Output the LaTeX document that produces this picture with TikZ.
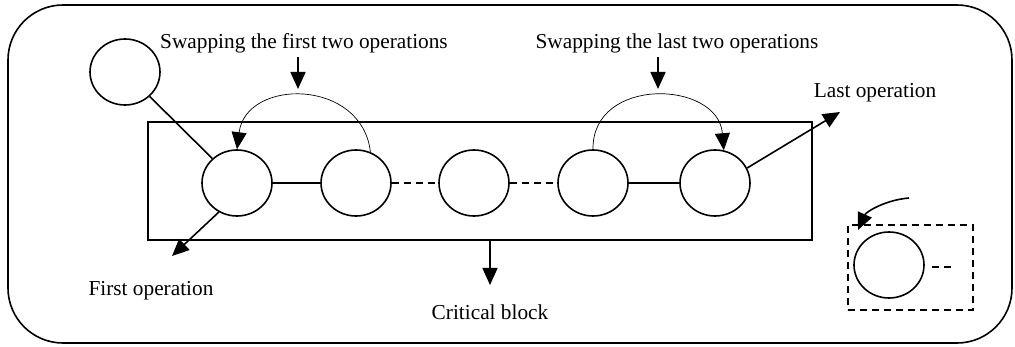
\documentclass[tikz,border=0pt]{standalone}
\usepackage{fontspec}
\setmainfont{Liberation Serif}
\usetikzlibrary{shapes.geometric,arrows.meta,calc}
\begin{document}
\begin{tikzpicture}[x=1pt,y=-1pt,
  op/.style={draw,line width=1.6pt,ellipse,minimum width=70pt,minimum height=66pt,inner sep=0pt},
  lbl/.style={font=\fontsize{21.3}{24}\selectfont,inner sep=0pt},
  thick line/.style={line width=1.6pt},
  bigarrow/.style={line width=1.6pt,-{Triangle[length=17pt,width=15pt]}},
  thinarrow/.style={line width=0.7pt,-{Triangle[length=17pt,width=15pt]}}]
\useasboundingbox (0,0) rectangle (1015,347);
\draw[thick line,rounded corners=55pt] (8,5) rectangle (1012,343);
\node[draw,thick line,minimum width=664pt,minimum height=118pt,inner sep=0pt] (block) at (480,181) {};
\node[op] (top) at (125,72) {};
\node[op] (e1) at (237,183) {};
\node[op] (e2) at (356,183) {};
\node[op] (e3) at (474,183) {};
\node[op] (e4) at (593,183) {};
\node[op] (e5) at (715,183) {};
\draw[thick line] (top) -- (e1);
\draw[thick line] (e1) -- (e2);
\draw[thick line,dash pattern=on 7pt off 5pt] (e2) -- (e3);
\draw[thick line,dash pattern=on 7pt off 5pt] (e3) -- (e4);
\draw[thick line] (e4) -- (e5);
\node[lbl] (swf) at (304,43) {Swapping the first two operations};
\node[lbl] (swl) at (677,43) {Swapping the last two operations};
\node[lbl] (lastop) at (875,93) {Last operation};
\node[lbl] (firstop) at (151,291) {First operation};
\node[lbl] (crit) at (490,312) {Critical block};
\coordinate (a1s) at (298,57); \coordinate (a1e) at (298,89);
\coordinate (a2s) at (658,57); \coordinate (a2e) at (658,89);
\draw[bigarrow] (a1s) -- (a1e);
\draw[bigarrow] (a2s) -- (a2e);
\draw[thinarrow] (e2.65) .. controls (362,78) and (246,78) .. (e1.north);
\draw[thinarrow] (e4.north) .. controls (592,76) and (718,80) .. (e5.75);
\coordinate (lt) at (840,112);
\draw[bigarrow] (e5.25) -- (lt);
\coordinate (ft) at (172,256);
\draw[bigarrow] (e1.-122) -- (ft);
\coordinate (cb) at (490,240); \coordinate (ct) at (490,285);
\draw[bigarrow] (cb) -- (ct);
% legend
\node[draw,thick line,dash pattern=on 7pt off 5pt,minimum width=125pt,minimum height=85pt,inner sep=0pt] (leg) at (910.5,267.5) {};
\node[op] (le) at (889,265) {};
\coordinate (ld1) at (932,267); \coordinate (ld2) at (954,267);
\draw[thick line,dash pattern=on 7pt off 5pt] (ld1) -- (ld2);
\coordinate (cs) at (909,198); \coordinate (ce) at (858,230);
\draw[bigarrow] (cs) .. controls (885,200) and (866,212) .. (ce);
\end{tikzpicture}
\end{document}
